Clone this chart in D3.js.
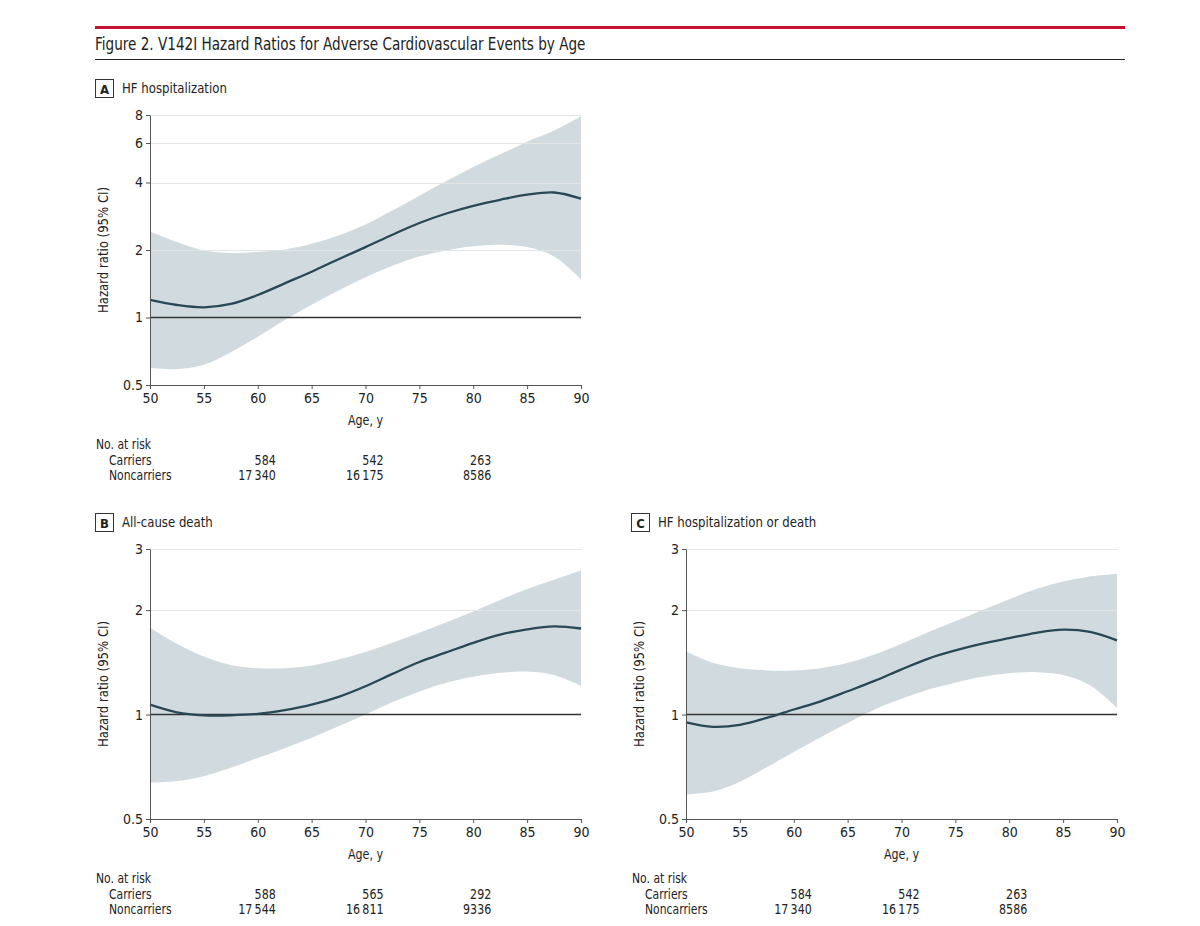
<!DOCTYPE html>
<html>
<head>
<meta charset="utf-8">
<script src="https://cdn.jsdelivr.net/npm/d3@7"></script>
<style>
  html, body { margin: 0; padding: 0; background: #fff; }
  svg { display: block; }
  text { font-family: "Liberation Sans Narrow", "Arial Narrow", "DejaVu Sans Condensed", sans-serif; fill: #222; }
</style>
</head>
<body>
<svg id="chart" width="1200" height="926"></svg>
<script>
// ---------------- DATA ----------------
const ages = [50, 52.5, 55, 57.5, 60, 62.5, 65, 67.5, 70, 72.5, 75, 77.5, 80, 82.5, 85, 87.5, 90];

// Panel A: HF hospitalization
const hfHR    = [1.197, 1.137, 1.11, 1.15, 1.26, 1.42, 1.60, 1.82, 2.06, 2.34, 2.64, 2.91, 3.15, 3.35, 3.53, 3.61, 3.39];
const hfLower = [0.595, 0.588, 0.615, 0.70, 0.82, 0.975, 1.14, 1.32, 1.51, 1.70, 1.87, 1.99, 2.08, 2.11, 2.06, 1.87, 1.48];
const hfUpper = [2.42, 2.17, 1.99, 1.94, 1.96, 2.01, 2.13, 2.32, 2.60, 3.00, 3.49, 4.06, 4.69, 5.34, 6.08, 6.82, 7.90];

// Panel B: All-cause death
const deathHR    = [1.068, 1.015, 0.995, 0.995, 1.005, 1.03, 1.068, 1.125, 1.207, 1.31, 1.417, 1.51, 1.61, 1.70, 1.76, 1.795, 1.77];
const deathLower = [0.636, 0.643, 0.664, 0.702, 0.75, 0.80, 0.857, 0.925, 1.0, 1.085, 1.165, 1.235, 1.285, 1.32, 1.33, 1.30, 1.21];
const deathUpper = [1.78, 1.60, 1.47, 1.39, 1.36, 1.36, 1.385, 1.44, 1.515, 1.61, 1.72, 1.845, 1.98, 2.14, 2.30, 2.445, 2.60];

// Panel C: HF hospitalization or death
const compHR    = [0.95, 0.922, 0.934, 0.978, 1.034, 1.092, 1.167, 1.25, 1.35, 1.45, 1.53, 1.60, 1.66, 1.72, 1.756, 1.73, 1.636];
const compLower = [0.589, 0.60, 0.64, 0.705, 0.78, 0.86, 0.945, 1.034, 1.11, 1.18, 1.235, 1.285, 1.315, 1.325, 1.30, 1.215, 1.045];
const compUpper = [1.52, 1.41, 1.36, 1.34, 1.34, 1.36, 1.41, 1.49, 1.60, 1.73, 1.856, 2.0, 2.15, 2.30, 2.42, 2.50, 2.54];

const xTicks = [50, 55, 60, 65, 70, 75, 80, 85, 90];
const yTicksA = [0.5, 1, 2, 4, 6, 8];
const yTicksBC = [0.5, 1, 2, 3];

const riskAges = [60, 70, 80];
const carriersA = [584, 542, 263];
const noncarriersA = [17340, 16175, 8586];
const carriersB = [588, 565, 292];
const noncarriersB = [17544, 16811, 9336];
const carriersC = [584, 542, 263];
const noncarriersC = [17340, 16175, 8586];

const titleText = "Figure 2. V142I Hazard Ratios for Adverse Cardiovascular Events by Age";

// ---------------- DRAW ----------------
const svg = d3.select("#chart");
const FONT = '"Liberation Sans Narrow", "Arial Narrow", "DejaVu Sans Condensed", sans-serif';

// text helper: horizontally condensed text to mimic the narrow journal typeface
function txt(parent, x, y, str, size, { anchor = "start", sx = 0.86, rotate = 0, weight = "normal" } = {}) {
  return parent.append("text")
    .attr("transform", `translate(${x},${y})${rotate ? ` rotate(${rotate})` : ""} scale(${sx},1)`)
    .attr("text-anchor", anchor).attr("font-size", size).attr("font-weight", weight).text(str);
}

// header
svg.append("line").attr("x1", 95).attr("x2", 1125).attr("y1", 27.5).attr("y2", 27.5)
  .attr("stroke", "#c4122f").attr("stroke-width", 3);
txt(svg, 95, 50, titleText, 18, { sx: 0.84 });
svg.append("line").attr("x1", 95).attr("x2", 1125).attr("y1", 59.5).attr("y2", 59.5)
  .attr("stroke", "#222").attr("stroke-width", 1.2);

const fmtNum = v => v >= 10000 ? d3.format(",")(v).replace(/,/g, "\u2009") : String(v);

function panel(opts) {
  const { left, top, letter, label, hr, lower, upper, yDomain, yTicks, carriers, noncarriers } = opts;
  const W = 431, H = 270;
  const g = svg.append("g");
  const x = d3.scaleLinear().domain([50, 90]).range([left, left + W]);
  const y = d3.scaleLog().domain(yDomain).range([top + H, top]);
  const curve = d3.curveCatmullRom.alpha(0.5);

  // panel label
  g.append("rect").attr("x", left - 54.5).attr("y", top - 35.5).attr("width", 18).attr("height", 18)
    .attr("fill", "none").attr("stroke", "#333").attr("stroke-width", 1);
  txt(g, left - 45.5, top - 21.5, letter, 13, { anchor: "middle", sx: 1, weight: "bold" });
  txt(g, left - 28, top - 22, label, 14.5, { sx: 0.9 });

  const data = ages.map((a, i) => ({ a, hr: hr[i], lo: lower[i], hi: upper[i] }));

  // band
  g.append("path").datum(data)
    .attr("d", d3.area().x(d => x(d.a)).y0(d => y(d.lo)).y1(d => y(d.hi)).curve(curve))
    .attr("fill", "#d1dadf");

  // gridlines
  g.selectAll(".grid").data(yTicks.filter(t => t !== 1 && t !== yDomain[0])).enter().append("line")
    .attr("x1", left).attr("x2", left + W)
    .attr("y1", d => Math.round(y(d)) + 0.5).attr("y2", d => Math.round(y(d)) + 0.5)
    .attr("stroke", "#e2e4e5").attr("stroke-width", 1);

  // reference line at HR = 1
  g.append("line").attr("x1", left).attr("x2", left + W)
    .attr("y1", y(1)).attr("y2", y(1)).attr("stroke", "#333").attr("stroke-width", 1.5);

  // HR line
  g.append("path").datum(data)
    .attr("d", d3.line().x(d => x(d.a)).y(d => y(d.hr)).curve(curve))
    .attr("fill", "none").attr("stroke", "#284855").attr("stroke-width", 2.3);

  // axes
  const xAxis = g.append("g").attr("transform", `translate(0,${top + H})`)
    .call(d3.axisBottom(x).tickValues(xTicks).tickSize(4).tickPadding(4).tickSizeOuter(0));
  const yAxis = g.append("g").attr("transform", `translate(${left},0)`)
    .call(d3.axisLeft(y).tickValues(yTicks).tickFormat(d => String(d)).tickSize(4).tickPadding(3).tickSizeOuter(0));
  [xAxis, yAxis].forEach(ax => {
    ax.select(".domain").attr("stroke", "#555");
    ax.selectAll(".tick line").attr("stroke", "#555");
    ax.selectAll(".tick text").attr("font-family", FONT).attr("font-size", 14).attr("fill", "#222");
  });

  // axis titles
  txt(g, left + W / 2, top + H + 40, "Age, y", 14, { anchor: "middle", sx: 0.88 });
  txt(g, left - 42, top + H / 2, "Hazard ratio (95% CI)", 14, { anchor: "middle", rotate: -90, sx: 0.93 });

  // risk table
  const b = top + H;
  txt(g, left - 54, b + 64, "No. at risk", 14);
  txt(g, left - 41, b + 79.5, "Carriers", 14);
  txt(g, left - 41, b + 95, "Noncarriers", 14);
  riskAges.forEach((a, i) => {
    txt(g, x(a) + 18, b + 79.5, fmtNum(carriers[i]), 14, { anchor: "end", sx: 0.88 });
    txt(g, x(a) + 18, b + 95, fmtNum(noncarriers[i]), 14, { anchor: "end", sx: 0.88 });
  });
}

panel({ left: 150, top: 115, letter: "A", label: "HF hospitalization", hr: hfHR, lower: hfLower, upper: hfUpper,
  yDomain: [0.5, 8], yTicks: yTicksA, carriers: carriersA, noncarriers: noncarriersA });
panel({ left: 150, top: 549, letter: "B", label: "All-cause death", hr: deathHR, lower: deathLower, upper: deathUpper,
  yDomain: [0.5, 3], yTicks: yTicksBC, carriers: carriersB, noncarriers: noncarriersB });
panel({ left: 686, top: 549, letter: "C", label: "HF hospitalization or death", hr: compHR, lower: compLower, upper: compUpper,
  yDomain: [0.5, 3], yTicks: yTicksBC, carriers: carriersC, noncarriers: noncarriersC });
</script>
</body>
</html>
